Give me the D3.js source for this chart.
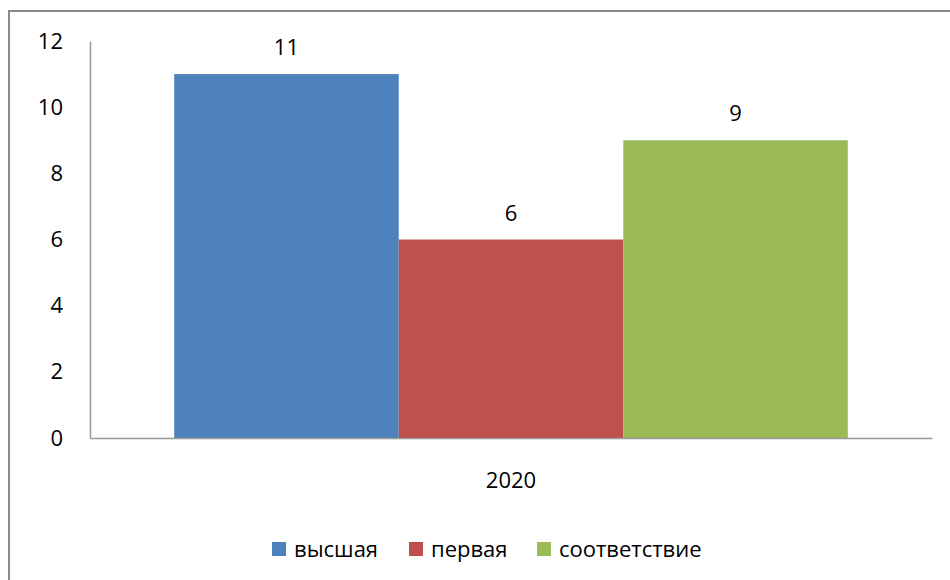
<!DOCTYPE html>
<html>
<head>
<meta charset="utf-8">
<script src="https://cdn.jsdelivr.net/npm/d3@7"></script>
<style>
  body { margin: 0; background: #fff; }
  svg text { font-family: "Open Sans", "Noto Sans", sans-serif; fill: #000; }
</style>
</head>
<body>
<svg width="950" height="580"></svg>
<script>
// data
var years = ["2020"];
var seriesNames = ["высшая", "первая", "соответствие"];
var seriesValues = [11, 6, 9];
var seriesColors = ["#4F81BD", "#C0504D", "#9BBB59"];
var yTicks = [0, 2, 4, 6, 8, 10, 12];

var fontSize = "22px";

var svg = d3.select("svg"),
    margin = {top: 41, right: 18, bottom: 142, left: 90},
    width = +svg.attr("width") - margin.left - margin.right,
    height = +svg.attr("height") - margin.top - margin.bottom;

// outer frame (right/bottom sides run past the window)
svg.append("rect")
    .attr("x", 9)
    .attr("y", 11)
    .attr("width", 1000)
    .attr("height", 1000)
    .style("fill", "none")
    .style("stroke", "#8c8c8c")
    .style("stroke-width", 2);

var g = svg.append("g").attr("transform", "translate(" + margin.left + "," + margin.top + ")");

var x0 = d3.scaleBand()
    .domain(years)
    .range([0, width])
    .paddingInner(0)
    .paddingOuter(0.125);

var x1 = d3.scaleBand()
    .domain(seriesNames)
    .range([0, x0.bandwidth()]);

var y = d3.scaleLinear()
    .domain([0, 12])
    .range([height, 0]);

// bars
var yearG = g.selectAll(".year")
    .data(years)
    .enter().append("g")
      .attr("transform", function (d) { return "translate(" + x0(d) + ",0)"; });

yearG.selectAll("rect")
    .data(seriesNames.map(function (n, i) { return {name: n, value: seriesValues[i], color: seriesColors[i]}; }))
    .enter().append("rect")
      .attr("x", function (d) { return x1(d.name); })
      .attr("y", function (d) { return y(d.value); })
      .attr("width", x1.bandwidth())
      .attr("height", function (d) { return height - y(d.value); })
      .style("fill", function (d) { return d.color; });

yearG.selectAll(".lbl")
    .data(seriesNames.map(function (n, i) { return {name: n, value: seriesValues[i]}; }))
    .enter().append("text")
      .attr("class", "lbl")
      .attr("x", function (d) { return x1(d.name) + x1.bandwidth() / 2; })
      .attr("y", function (d) { return y(d.value) - 19; })
      .attr("text-anchor", "middle")
      .style("font-size", fontSize)
      .text(function (d) { return d.value; });

// y axis
var yAxis = g.append("g")
    .call(d3.axisLeft(y).tickValues(yTicks).tickSize(0).tickPadding(27));
yAxis.select(".domain").attr("stroke", "#999").attr("stroke-width", 1.5);
yAxis.selectAll("text").style("font-size", fontSize);

// x axis
var xAxis = g.append("g")
    .attr("transform", "translate(0," + height + ")")
    .call(d3.axisBottom(x0).tickSize(0).tickPadding(34));
xAxis.select(".domain").attr("stroke", "#999").attr("stroke-width", 1.5);
xAxis.selectAll("text").style("font-size", fontSize);

// legend
var legendX = [272, 409, 537];
var legend = svg.append("g")
    .selectAll("g")
    .data(seriesNames)
    .enter().append("g")
      .attr("transform", function (d, i) { return "translate(" + legendX[i] + ",542)"; });

legend.append("rect")
    .attr("width", 14)
    .attr("height", 14)
    .style("fill", function (d, i) { return seriesColors[i]; });

legend.append("text")
    .attr("x", 22)
    .attr("y", 15)
    .style("font-size", fontSize)
    .text(function (d) { return d; });
</script>
</body>
</html>
